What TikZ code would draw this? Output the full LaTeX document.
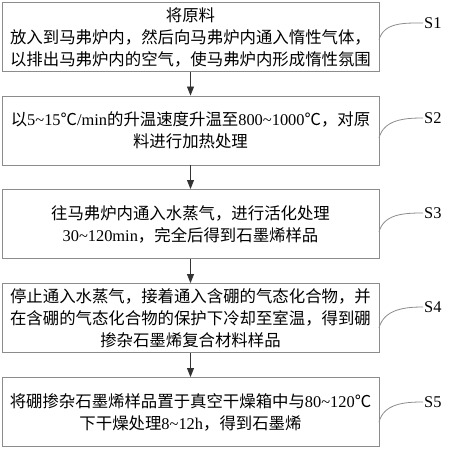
\documentclass[tikz,border=0pt]{standalone}
\usepackage{fontspec}
\setmainfont{Liberation Serif}
\newfontfamily\cjk{Noto Sans CJK SC}
\usetikzlibrary{arrows.meta}
\newcommand\zh[1]{{\cjk #1}}
\newcommand\tl{\textasciitilde}
\begin{document}
\begin{tikzpicture}[x=1pt,y=-1pt,
  stepbox/.style={draw=black!45,line width=0.9pt,minimum width=377pt,minimum height=69pt,inner sep=0pt,align=center,font=\fontsize{16.4}{22}\selectfont},
  flow/.style={draw=black!80,line width=0.8pt,-{Triangle[width=7pt,length=9pt]}},
  lab/.style={anchor=west,inner sep=1pt,font=\fontsize{16.4}{20}\selectfont},
  curve/.style={draw=black!45,line width=0.8pt}]
\useasboundingbox (0,0) rectangle (451,450);
\node[stepbox] (b1) at (190.5,37) {\zh{将原料}\\\zh{放入到马弗炉内，然后向马弗炉内通入惰性气体，}\\\zh{以排出马弗炉内的空气，使马弗炉内形成惰性氛围}};
\node[stepbox] (b2) at (190.5,130.5) {\zh{以}5\tl15\zh{℃}/min\zh{的升温速度升温至}800\tl1000\zh{℃，对原}\\\zh{料进行加热处理}};
\node[stepbox] (b3) at (190.5,224) {\zh{往马弗炉内通入水蒸气，进行活化处理}\\30\tl120min\zh{，完全后得到石墨烯样品}};
\node[stepbox] (b4) at (190.5,318) {\zh{停止通入水蒸气，接着通入含硼的气态化合物，并}\\\zh{在含硼的气态化合物的保护下冷却至室温，得到硼}\\\zh{掺杂石墨烯复合材料样品}};
\node[stepbox] (b5) at (190.5,412) {\zh{将硼掺杂石墨烯样品置于真空干燥箱中与}80\tl120\zh{℃}\\\zh{下干燥处理}8\tl12h\zh{，得到石墨烯}};
\draw[flow] (b1) -- (b2);
\draw[flow] (b2) -- (b3);
\draw[flow] (b3) -- (b4);
\draw[flow] (b4) -- (b5);
\node[lab] (s1) at (423,23) {S1};
\node[lab] (s2) at (423,118) {S2};
\node[lab] (s3) at (423,213) {S3};
\node[lab] (s4) at (423,307) {S4};
\node[lab] (s5) at (423,402) {S5};
\coordinate (c1) at (379,40);
\coordinate (c2) at (379,138);
\coordinate (c3) at (379,232);
\coordinate (c4) at (379,328);
\coordinate (c5) at (379,422);
\draw[curve] (c1) to[out=75,in=180] (s1.west);
\draw[curve] (c2) to[out=75,in=180] (s2.west);
\draw[curve] (c3) to[out=75,in=180] (s3.west);
\draw[curve] (c4) to[out=75,in=180] (s4.west);
\draw[curve] (c5) to[out=75,in=180] (s5.west);
\end{tikzpicture}
\end{document}
